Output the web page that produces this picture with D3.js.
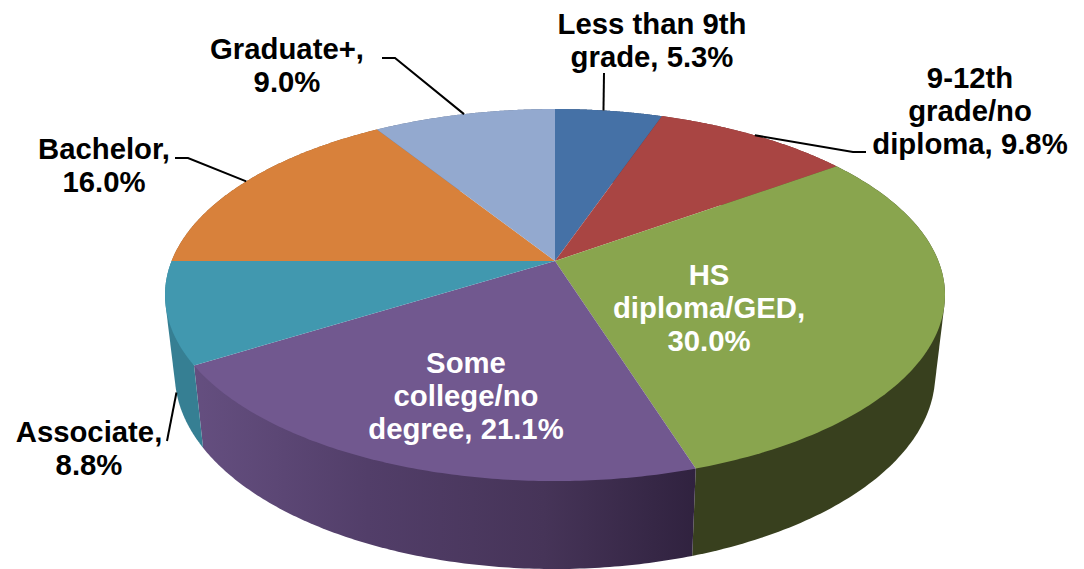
<!DOCTYPE html>
<html><head><meta charset="utf-8">
<script src="https://cdn.jsdelivr.net/npm/d3@7"></script>
<style>html,body{margin:0;padding:0;background:#fff}svg{display:block}
text{font-family:"Liberation Sans",Arial,sans-serif;font-weight:700;font-size:29.3px;text-anchor:middle}</style>
</head><body><svg id="c" width="1084" height="569"></svg>
<script>
const categories = ["Less than 9th grade","9-12th grade/no diploma","HS diploma/GED","Some college/no degree","Associate","Bachelor","Graduate+"];
const values = [5.3,9.8,30.0,21.1,8.8,16.0,9.0];
const topColors = ["#4571A6","#A94543","#89A54E","#71588F","#4198AF","#D8813B","#93A9CF"];
const labelLines = [["Less than 9th","grade, 5.3%"],["9-12th","grade/no","diploma, 9.8%"],["HS","diploma/GED,","30.0%"],["Some","college/no","degree, 21.1%"],["Associate,","8.8%"],["Bachelor,","16.0%"],["Graduate+,","9.0%"]];
const labelPos = [[652,34],[970,88],[709,285],[466,373],[89,442],[104,159],[287,59]];
const labelFill = ["#000","#000","#fff","#fff","#000","#000","#000"];
// leader: elbow points on the label side; the end lies on the rim, computed from the slice angle
const leaderElbows = [[[604,73]],[[866,152],[853,152]],null,null,[[167,441]],[[175,158],[188,158]],[[382,58],[395,58]]];
const leaderFrac = [0.45,0.5,0.5,0.5,0.5,0.5,0.5];

const svg = d3.select("#c");
const cx = 555, topY = 261, botY = 338.3, k = 0.183;
const Ax = d3.scaleLinear().domain([-1,1]).range([-383.4,383.4]);
const Ay = d3.scaleLinear().domain([-1,1]).range([-179.8,179.8]);
const Ay2 = d3.scaleLinear().domain([-1,1]).range([-188.5,188.5]);
const s = 0.975;
function proj(theta, lower){
  const u = Math.sin(theta), v = -Math.cos(theta), d = 1 - k*v;
  return lower ? [cx + s*Ax(u)/d, botY + Ay2(v)/d] : [cx + Ax(u)/d, topY + Ay(v)/d];
}
const arcs = d3.pie().sort(null).value(d=>d).startAngle(0).endAngle(2*Math.PI)(values);
const line = d3.line();
const samples = (a,b)=>d3.range(0,121).map(i=>a+(b-a)*i/120);

const defs = svg.append("defs");
const wallStops = [
 {id:"wPurple",stops:[["0%","#654F80"],["35%","#523E69"],["70%","#463458"],["100%","#30223F"]],x1:192,x2:695},
 {id:"wGreen",stops:[["0%","#38401E"],["100%","#38401E"]],x1:695,x2:945},
 {id:"wTeal",stops:[["0%","#367F93"],["100%","#367F93"]],x1:165,x2:205}
];
wallStops.forEach(g=>{
  const lg = defs.append("linearGradient").attr("id",g.id).attr("gradientUnits","userSpaceOnUse")
    .attr("x1",g.x1).attr("x2",g.x2).attr("y1",0).attr("y2",0);
  g.stops.forEach(st=>lg.append("stop").attr("offset",st[0]).attr("stop-color",st[1]));
});
const wallFill = ["#2f4b6e","#712e2c","url(#wGreen)","url(#wPurple)","url(#wTeal)","#8f5627","#62718a"];

// side walls: hull of the upper and lower rim of each slice; the top faces cover the inner part
svg.append("g").selectAll("path").data(arcs).join("path")
  .attr("fill",(d,i)=>wallFill[i])
  .attr("d",d=>{
    const a = samples(d.startAngle,d.endAngle);
    return line(d3.polygonHull(a.map(t=>proj(t,false)).concat(a.map(t=>proj(t,true)))))+"Z";
  });
// top faces
svg.append("g").selectAll("path").data(arcs).join("path")
  .attr("fill",(d,i)=>topColors[i])
  .attr("d",d=>line([[cx,topY]].concat(samples(d.startAngle,d.endAngle).map(t=>proj(t,false))))+"Z");

// leaders
svg.append("g").selectAll("path").data(arcs.filter((d,i)=>leaderElbows[i])).join("path")
  .attr("fill","none").attr("stroke","#000").attr("stroke-width",2)
  .attr("d",d=>{
    const i = d.index, t = d.startAngle+(d.endAngle-d.startAngle)*leaderFrac[i];
    return line(leaderElbows[i].concat([proj(t, categories[i]==="Associate")]));
  });
// labels
const lg = svg.append("g").selectAll("text").data(labelLines).join("text")
  .attr("fill",(d,i)=>labelFill[i])
  .attr("x",(d,i)=>labelPos[i][0]).attr("y",(d,i)=>labelPos[i][1]);
lg.selectAll("tspan").data((d,i)=>d.map(l=>({l,x:labelPos[i][0]}))).join("tspan")
  .attr("x",d=>d.x).attr("dy",(d,j)=>j?33:0).text(d=>d.l);
</script></body></html>
